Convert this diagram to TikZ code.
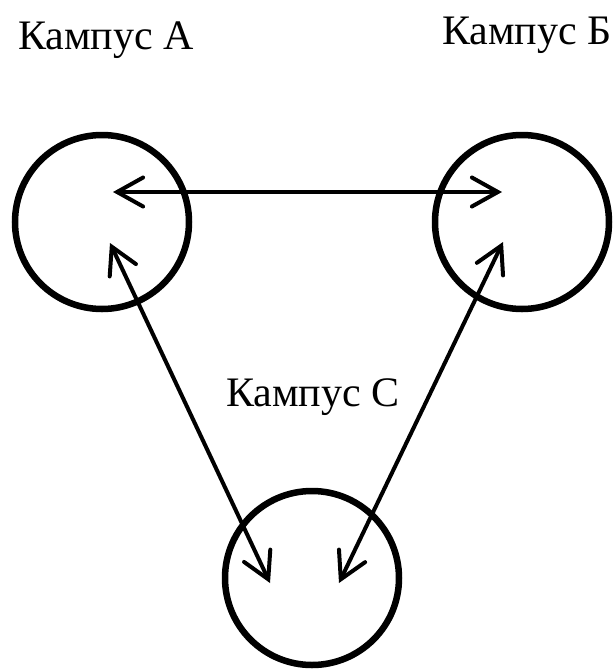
\documentclass[tikz,border=0pt]{standalone}
\usepackage{fontspec}
\setmainfont{Liberation Serif}
\usetikzlibrary{positioning}
\usetikzlibrary{arrows.meta}

\begin{document}
\begin{tikzpicture}[x=1pt,y=-1pt,<->,>={Straight Barb[length=26pt,width=29pt,line cap=round]},
	campus node/.style={circle,draw,line width=6.5pt,inner sep=0pt,minimum size=174pt},
	link/.style={line width=4pt,line cap=round},
	label text/.style={anchor=base west,inner sep=0pt,font=\fontsize{42}{50}\selectfont}]

	\useasboundingbox (0,0) rectangle (614,670);

	%the three campuses
	\begin{scope}
		\node[campus node] (A) at (102,222) {};
		\node[campus node] (B) at (522,222) {};
		\node[campus node] (C) at (312,578) {};
	\end{scope}

	%the names, set above the circles
	\begin{scope}
		\node[label text] (nameA) at (18,49) {Кампус А};
		\node[label text] (nameB) at (442,44) {Кампус Б};
		\node[label text] (nameC) at (226,406) {Кампус С};
	\end{scope}

	%ends of the links inside the circles
	\coordinate (ab) at ([shift={(11,-30)}]A.center);
	\coordinate (ba) at ([shift={(-20,-30)}]B.center);
	\coordinate (ac) at ([shift={(8,21)}]A.center);
	\coordinate (ca) at ([shift={(-42,5)}]C.center);
	\coordinate (bc) at ([shift={(-19,20)}]B.center);
	\coordinate (cb) at ([shift={(27,5)}]C.center);

	%links between every pair of campuses
	\begin{scope}
		\draw[link] (ab) -- (ba);
		\draw[link] (ac) -- (ca);
		\draw[link] (bc) -- (cb);
	\end{scope}
\end{tikzpicture}
\end{document}
